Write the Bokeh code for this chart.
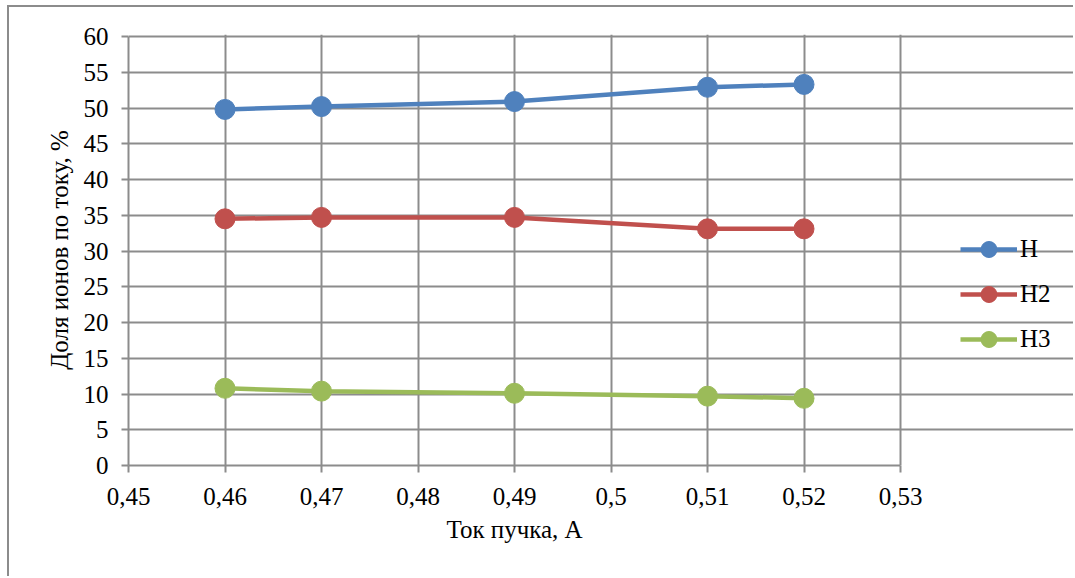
from bokeh.plotting import figure
from bokeh.models import (Legend, LegendItem, FixedTicker, CustomJSTickFormatter,
                          Range1d, Title)
from bokeh.embed import file_html
from bokeh.resources import INLINE

# ---- data ----
current = [0.46, 0.47, 0.49, 0.51, 0.52]
h1 = [49.8, 50.2, 50.9, 52.9, 53.3]
h2 = [34.5, 34.7, 34.7, 33.1, 33.1]
h3 = [10.8, 10.4, 10.1, 9.7, 9.4]
series_names = ["H", "H2", "H3"]
x_ticks = [0.45, 0.46, 0.47, 0.48, 0.49, 0.50, 0.51, 0.52, 0.53]
y_ticks = [0, 5, 10, 15, 20, 25, 30, 35, 40, 45, 50, 55, 60]
x_title = "Ток пучка, А"
y_title = "Доля ионов по току, %"

colors = ["#4F81BD", "#C0504D", "#9BBB59"]
FONT = "Liberation Serif"
GRID = "#8c8c8c"

# layout (pixels)
W, H = 1066, 571
LEFT, TOP, BOTTOM = 119, 27, 113
x0, x1 = x_ticks[0], x_ticks[-1]
y0, y1 = y_ticks[0], y_ticks[-1]
axis_px = 772.0                      # width of the drawn x axis (0.45..0.53)
frame_w = W - LEFT
x_end = x0 + (x1 - x0) * frame_w / axis_px   # frame extends under the legend
frame_h = H - TOP - BOTTOM
y_end = y0 + (y1 - y0) * frame_h / 429.0

p = figure(width=W, height=H, output_backend="svg", toolbar_location=None,
           x_range=Range1d(x0, x_end), y_range=Range1d(y0, y_end),
           min_border_left=LEFT, min_border_top=TOP, min_border_right=0,
           min_border_bottom=BOTTOM)
p.styles = {"border-left": "2px solid #8c8c8c", "border-top": "2px solid #8c8c8c",
            "margin-left": "7px", "margin-top": "5px"}

p.outline_line_color = None
p.background_fill_color = "white"
p.border_fill_color = "white"

p.xaxis.ticker = FixedTicker(ticks=x_ticks)
p.yaxis.ticker = FixedTicker(ticks=y_ticks)
p.xaxis.bounds = (x0, x1)
p.yaxis.bounds = (y0, y1)
p.xaxis.formatter = CustomJSTickFormatter(
    code="return String(Math.round(tick*100)/100).replace('.', ',');")

for ax in (p.xaxis, p.yaxis):
    ax.axis_line_color = GRID
    ax.axis_line_width = 2
    ax.major_tick_line_color = GRID
    ax.major_tick_line_width = 2
    ax.major_tick_out = 7
    ax.major_tick_in = 0
    ax.minor_tick_line_color = None
    ax.major_label_text_font = FONT
    ax.major_label_text_font_size = "25px"
    ax.major_label_text_color = "black"
    ax.axis_label_text_font = FONT
    ax.axis_label_text_font_size = "25px"
    ax.axis_label_text_font_style = "normal"
    ax.axis_label_text_color = "black"

p.yaxis.axis_label = y_title
p.xaxis.major_label_standoff = 15
p.yaxis.major_label_standoff = 13
p.yaxis.axis_label_standoff = 8

# x axis title, centred under the drawn axis (not the whole frame)
xt = Title(text=x_title, align="left", offset=318, standoff=13,
           text_font=FONT, text_font_size="25px", text_font_style="normal",
           text_color="black")
p.add_layout(xt, "below")

p.xgrid.grid_line_color = GRID
p.xgrid.grid_line_width = 2
p.xgrid.bounds = (y0, y1)
p.ygrid.grid_line_color = GRID
p.ygrid.grid_line_width = 2
p.ygrid.bounds = (x0, x1)

items = []
for name, ys, c in zip(series_names, [h1, h2, h3], colors):
    lr = p.line(current, ys, line_color=c, line_width=4.5)
    sr = p.scatter(current, ys, size=20, fill_color=c, line_color=c)
    items.append(LegendItem(label=name, renderers=[lr, sr]))

legend = Legend(items=items, location=(832, 106), orientation="vertical",
                glyph_width=57, glyph_height=40, spacing=5, padding=0, margin=0,
                label_standoff=3, border_line_color=None, background_fill_alpha=0,
                label_text_font=FONT, label_text_font_size="25px",
                label_text_color="black")
p.add_layout(legend, "center")

open("out.html", "w").write(file_html(p, INLINE))
